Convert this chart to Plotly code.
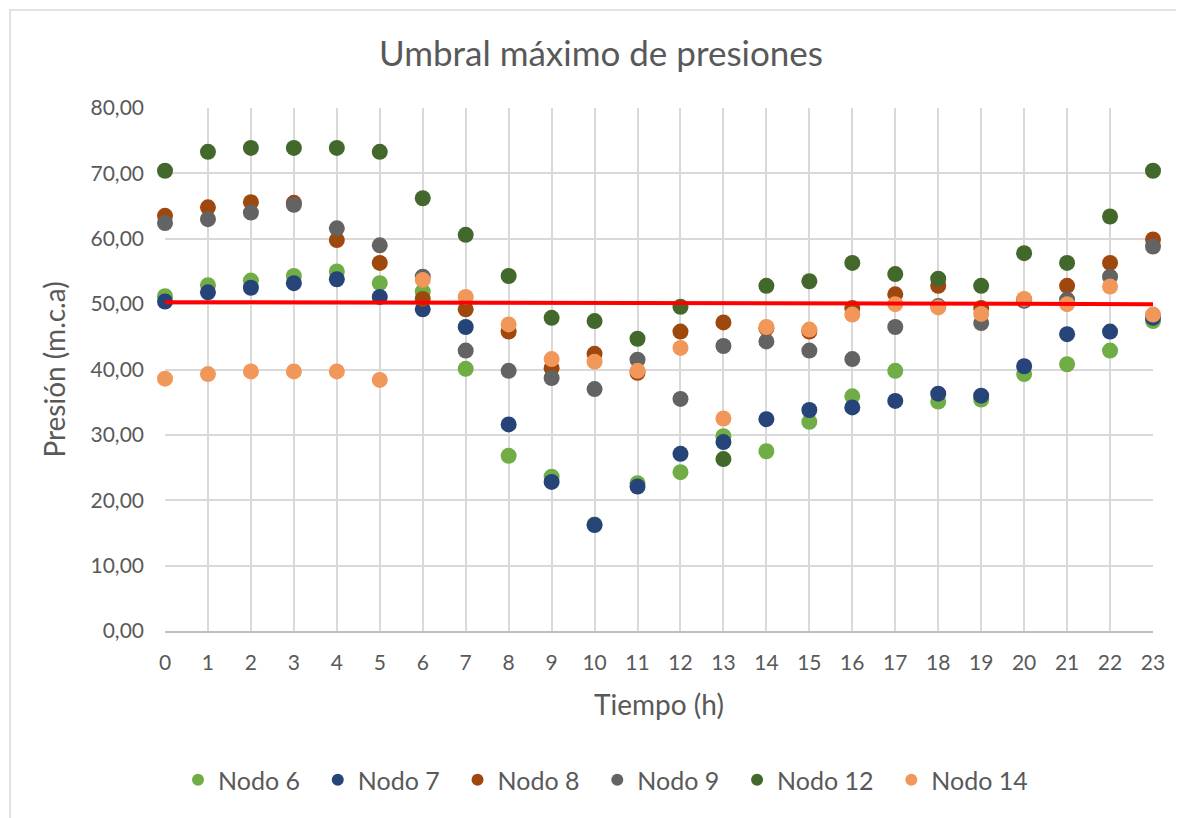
import plotly.graph_objects as go

hours = list(range(24))
x_labels = [str(h) for h in hours]

nodo6 = [51.2, 52.9, 53.6, 54.3, 55.0, 53.2, 51.9, 40.1, 26.8, 23.6, 16.3, 22.6,
         24.3, 29.8, 27.5, 32.0, 35.9, 39.8, 35.1, 35.4, 39.3, 40.8, 42.9, 47.4]
nodo7 = [50.4, 51.8, 52.5, 53.2, 53.8, 51.1, 49.2, 46.5, 31.6, 22.8, 16.2, 22.1,
         27.1, 28.9, 32.4, 33.8, 34.2, 35.2, 36.3, 36.0, 40.5, 45.4, 45.8, 47.9]
nodo8 = [63.5, 64.8, 65.6, 65.5, 59.8, 56.3, 50.8, 49.2, 45.8, 40.2, 42.4, 39.5,
         45.8, 47.2, 46.3, 45.8, 49.4, 51.5, 52.8, 49.4, 50.7, 52.8, 56.3, 59.9]
nodo9 = [62.4, 63.0, 64.0, 65.2, 61.6, 59.0, 54.2, 42.9, 39.8, 38.7, 37.0, 41.5,
         35.5, 43.6, 44.3, 42.9, 41.6, 46.5, 49.7, 47.1, 50.5, 50.7, 54.2, 58.8]
nodo12 = [70.4, 73.3, 73.9, 73.9, 73.9, 73.3, 66.2, 60.6, 54.3, 47.9, 47.4, 44.7,
          49.6, 26.3, 52.8, 53.5, 56.3, 54.6, 53.9, 52.8, 57.8, 56.3, 63.4, 70.4]
nodo14 = [38.6, 39.3, 39.7, 39.7, 39.7, 38.4, 53.7, 51.1, 46.9, 41.6, 41.2, 39.8,
          43.3, 32.5, 46.5, 46.1, 48.4, 50.0, 49.5, 48.5, 50.8, 50.0, 52.7, 48.4]

umbral_x = [0, 23]
umbral_y = [50.3, 50.0]

series = [
    ("Nodo 6", nodo6, "#70AD47"),
    ("Nodo 7", nodo7, "#264478"),
    ("Nodo 8", nodo8, "#9E480E"),
    ("Nodo 9", nodo9, "#636363"),
    ("Nodo 12", nodo12, "#43682B"),
    ("Nodo 14", nodo14, "#F1975A"),
]

FONT = "Lato"
W, H = 1184, 818
OFF = 8  # page body margin
L, R, T, B = 165 - OFF, W - (1153 - OFF), 108 - OFF, H - (631 - OFF)
PW, PH = W - L - R, H - T - B

fig = go.Figure()
for name, vals, col in series:
    fig.add_trace(go.Scatter(
        x=hours, y=vals, mode="markers", name=name + "  ",
        marker=dict(size=16, color=col, line=dict(width=0)),
        cliponaxis=False))

fig.add_trace(go.Scatter(x=umbral_x, y=umbral_y, mode="lines", showlegend=False,
                         line=dict(color="#FF0000", width=4), cliponaxis=False))

fig.update_layout(
    width=W, height=H,
    margin=dict(l=L, r=R, t=T, b=B),
    paper_bgcolor="white", plot_bgcolor="white",
    separators=",.",
    font=dict(family=FONT, color="#595959"),
    title=dict(text="Umbral máximo de presiones", x=(601 - OFF - L) / PW, xref="paper",
               xanchor="center", y=1 - (54 - OFF) / H, yanchor="middle",
               font=dict(size=35, color="#595959", family=FONT)),
    xaxis=dict(range=[0, 23], tickmode="array", tickvals=hours, ticktext=x_labels,
               showgrid=True, gridcolor="#D9D9D9", gridwidth=1.5,
               zeroline=False, showline=True, linecolor="#BFBFBF", linewidth=1.5,
               ticks="", tickfont=dict(size=21, color="#595959"), ticklabelstandoff=12,
               title=dict(text="Tiempo (h)", font=dict(size=28, color="#595959"), standoff=22)),
    yaxis=dict(range=[0, 80], dtick=10, tickformat=".2f",
               showgrid=True, gridcolor="#D9D9D9", gridwidth=1.5,
               zeroline=False, showline=False, ticks="",
               tickfont=dict(size=21, color="#595959"), ticklabelstandoff=20,
               title=dict(text="Presión (m.c.a)", font=dict(size=28, color="#595959"), standoff=16)),
    legend=dict(orientation="h", x=(612 - OFF - L) / PW, xanchor="center",
                y=-(780 - 631) / PH, yanchor="middle",
                font=dict(size=25, color="#595959"), itemsizing="constant",
                itemwidth=30, tracegroupgap=0),
    shapes=[dict(type="rect", xref="paper", yref="paper",
                 x0=(10 - OFF - L) / PW, x1=1.2, y0=-0.6, y1=1 + (T - (10 - OFF)) / PH,
                 line=dict(color="#D9D9D9", width=1.5), fillcolor="rgba(0,0,0,0)", layer="below")],
)

fig.write_html("out.html")
